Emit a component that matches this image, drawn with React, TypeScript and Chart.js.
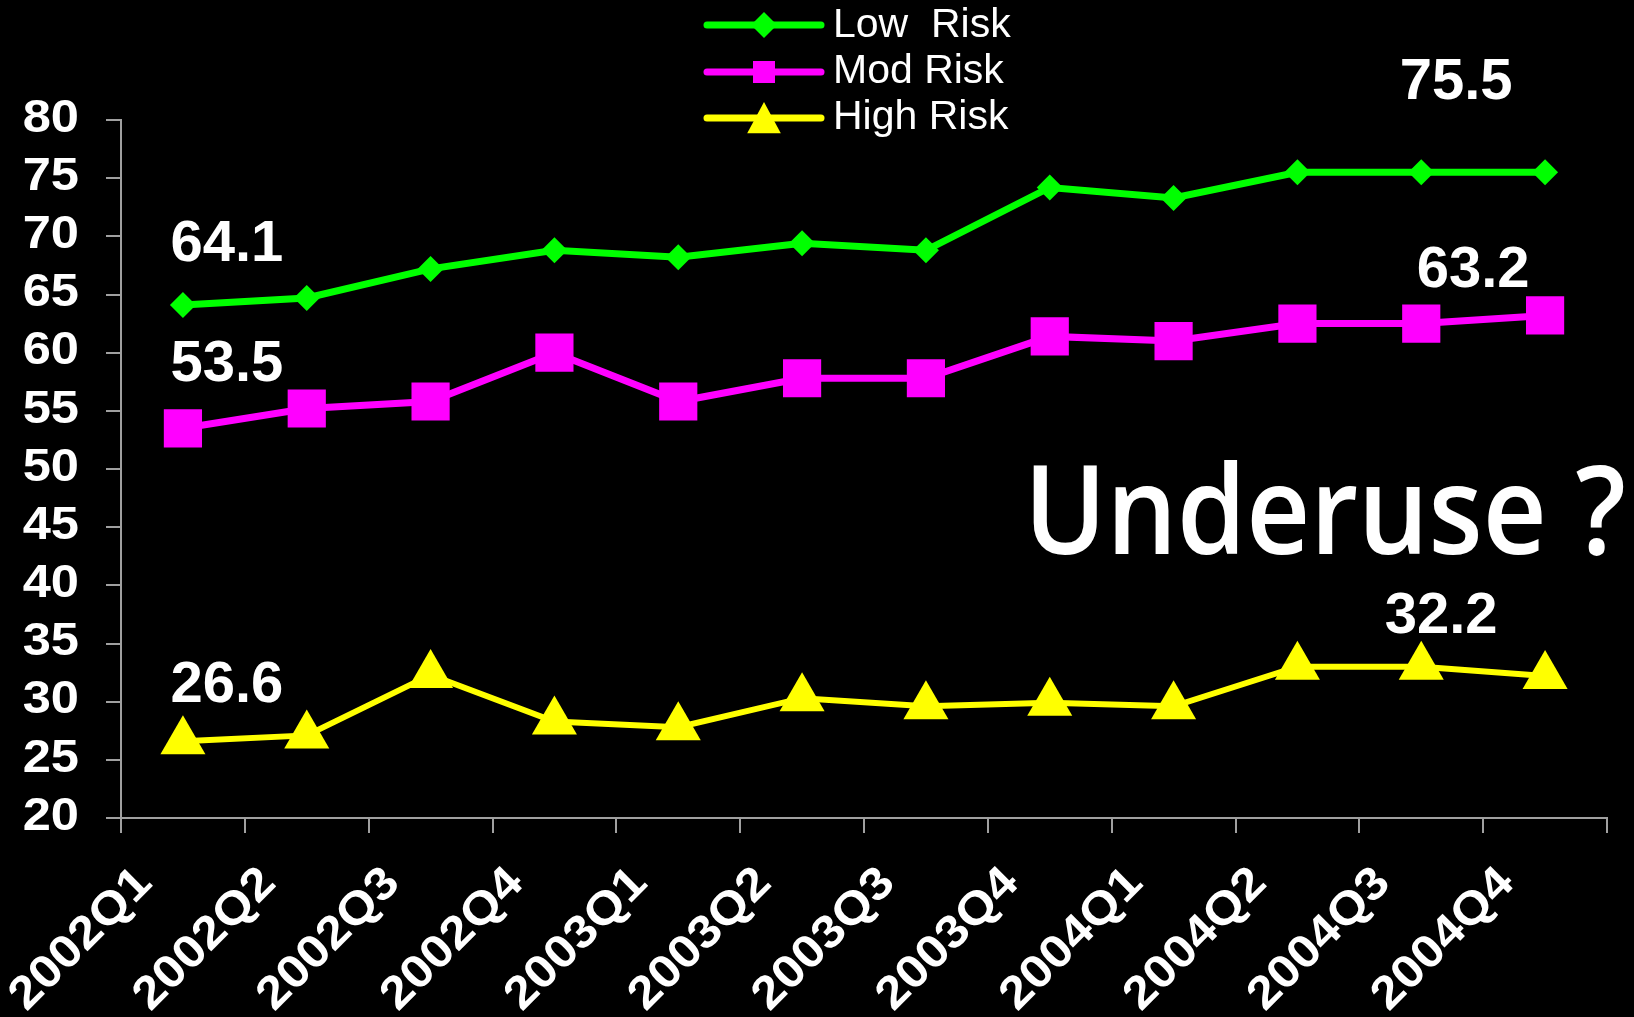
import React, { useEffect, useRef } from "react";
import { Chart, registerables } from "chart.js";

Chart.register(...registerables);

const categories = [
  "2002Q1", "2002Q2", "2002Q3", "2002Q4",
  "2003Q1", "2003Q2", "2003Q3", "2003Q4",
  "2004Q1", "2004Q2", "2004Q3", "2004Q4",
];
const lowRisk = [64.1, 64.7, 67.2, 68.8, 68.2, 69.4, 68.8, 74.2, 73.3, 75.5, 75.5, 75.5];
const modRisk = [53.5, 55.2, 55.8, 60.0, 55.8, 57.8, 57.8, 61.4, 61.0, 62.5, 62.5, 63.2];
const highRisk = [26.6, 27.1, 32.3, 28.3, 27.8, 30.3, 29.6, 29.9, 29.6, 33.0, 33.0, 32.2];
const seriesNames = ["Low  Risk", "Mod Risk", "High Risk"];
const seriesColors = ["#00FF00", "#FF00FF", "#FFFF00"];
const yMin = 20;
const yMax = 80;
const yStep = 5;
const calloutTexts = ["64.1", "53.5", "26.6", "75.5", "63.2", "32.2"];
const annotationText = "Underuse ?";

const FONT = '"Liberation Sans", Arial, sans-serif';

function drawMarker(ctx: CanvasRenderingContext2D, kind: number, x: number, y: number, r: number, color: string) {
  ctx.save();
  ctx.fillStyle = color;
  ctx.beginPath();
  if (kind === 0) {
    ctx.moveTo(x, y - r);
    ctx.lineTo(x + r, y);
    ctx.lineTo(x, y + r);
    ctx.lineTo(x - r, y);
  } else if (kind === 1) {
    ctx.rect(x - r, y - r, 2 * r, 2 * r);
  } else {
    ctx.moveTo(x, y - r);
    ctx.lineTo(x + r * 1.05, y + r * 0.95);
    ctx.lineTo(x - r * 1.05, y + r * 0.95);
  }
  ctx.closePath();
  ctx.fill();
  ctx.restore();
}

const overlayPlugin = {
  id: "overlay",
  beforeDraw(chart: any) {
    const ctx = chart.ctx as CanvasRenderingContext2D;
    ctx.save();
    ctx.fillStyle = "#000";
    ctx.fillRect(0, 0, chart.width, chart.height);
    ctx.restore();
  },
  afterDraw(chart: any) {
    const ctx = chart.ctx as CanvasRenderingContext2D;
    const xs = chart.scales.x;
    const ys = chart.scales.y;

    // Y tick labels
    ctx.save();
    ctx.fillStyle = "#fff";
    ctx.font = `bold 46px ${FONT}`;
    ctx.textAlign = "right";
    ctx.textBaseline = "middle";
    ys.ticks.forEach((t: any) => {
      const py = ys.getPixelForValue(t.value);
      ctx.save();
      ctx.translate(xs.left - 42, py - 1);
      ctx.scale(1.1, 1);
      ctx.fillText(String(t.value), 0, 0);
      ctx.restore();
    });
    ctx.restore();

    // X tick labels rotated 45deg
    ctx.save();
    ctx.fillStyle = "#fff";
    ctx.font = `bold 46px ${FONT}`;
    ctx.textAlign = "right";
    ctx.textBaseline = "middle";
    categories.forEach((c, i) => {
      const px = xs.getPixelForValue(i);
      ctx.save();
      ctx.translate(px - 38, ys.bottom + 58);
      ctx.rotate(-Math.PI / 4);
      ctx.scale(1.1, 1);
      ctx.fillText(c, 0, 0);
      ctx.restore();
    });
    ctx.restore();

    // Callout value labels
    const series = [lowRisk, modRisk, highRisk];
    const calloutPos = [
      { s: 0, i: 0, dx: 44, dy: -60 },
      { s: 1, i: 0, dx: 44, dy: -63 },
      { s: 2, i: 0, dx: 44, dy: -55 },
      { s: 0, i: 11, dx: -89, dy: -89 },
      { s: 1, i: 11, dx: -72, dy: -44 },
      { s: 2, i: 11, dx: -104, dy: -59 },
    ];
    ctx.save();
    ctx.fillStyle = "#fff";
    ctx.font = `bold 58px ${FONT}`;
    ctx.textAlign = "center";
    ctx.textBaseline = "middle";
    calloutTexts.forEach((txt, k) => {
      const p = calloutPos[k];
      const px = xs.getPixelForValue(p.i) + p.dx;
      const py = ys.getPixelForValue(series[p.s][p.i]) + p.dy;
      ctx.fillText(txt, px, py);
    });
    ctx.restore();

    // Underuse annotation
    ctx.save();
    ctx.fillStyle = "#fff";
    ctx.font = `600 123px "Comic Sans MS", "Open Sans", sans-serif`;
    ctx.textAlign = "left";
    ctx.textBaseline = "alphabetic";
    const w = ctx.measureText(annotationText).width;
    const target = 602;
    ctx.translate(1024, 554);
    ctx.scale(target / w, 1);
    ctx.fillText(annotationText, 0, 0);
    ctx.restore();

    // Legend
    const rowsBase = [37, 83, 129];
    const rowsLine = [25, 72, 118];
    const markerR = [13, 11, 16];
    ctx.save();
    seriesNames.forEach((name, k) => {
      ctx.strokeStyle = seriesColors[k];
      ctx.lineWidth = 7;
      ctx.lineCap = "round";
      ctx.beginPath();
      ctx.moveTo(707, rowsLine[k]);
      ctx.lineTo(821, rowsLine[k]);
      ctx.stroke();
      drawMarker(ctx, k, 764, rowsLine[k], markerR[k], seriesColors[k]);
      ctx.fillStyle = "#fff";
      ctx.font = `41px ${FONT}`;
      ctx.textAlign = "left";
      ctx.textBaseline = "alphabetic";
      ctx.fillText(name, 833, rowsBase[k]);
    });
    ctx.restore();
  },
};

export default function App() {
  const canvasRef = useRef<HTMLCanvasElement | null>(null);

  useEffect(() => {
    document.body.style.margin = "0";
    document.body.style.background = "#000";
    const canvas = canvasRef.current;
    if (!canvas) return;
    const chart = new Chart(canvas, {
      type: "line",
      data: {
        labels: categories,
        datasets: [
          {
            label: seriesNames[0],
            data: lowRisk,
            borderColor: seriesColors[0],
            backgroundColor: seriesColors[0],
            borderWidth: 7,
            pointStyle: "rectRot",
            pointRadius: 13,
            pointBorderWidth: 0,
            tension: 0,
          },
          {
            label: seriesNames[1],
            data: modRisk,
            borderColor: seriesColors[1],
            backgroundColor: seriesColors[1],
            borderWidth: 7,
            pointStyle: "rect",
            pointRadius: 27,
            pointBorderWidth: 0,
            tension: 0,
          },
          {
            label: seriesNames[2],
            data: highRisk,
            borderColor: seriesColors[2],
            backgroundColor: seriesColors[2],
            borderWidth: 6,
            pointStyle: "triangle",
            pointRadius: 26,
            pointBorderWidth: 0,
            tension: 0,
          },
        ],
      },
      options: {
        animation: false,
        responsive: false,
        devicePixelRatio: 1,
        layout: { padding: { top: 120, right: 22, left: 0, bottom: 0 } },
        plugins: {
          legend: { display: false },
          tooltip: { enabled: false },
        },
        scales: {
          x: {
            type: "category",
            offset: true,
            grid: {
              offset: true,
              drawOnChartArea: false,
              drawTicks: true,
              tickLength: 15,
              color: "#a0a0a0",
              lineWidth: 2,
            },
            border: { color: "#a0a0a0", width: 2 },
            ticks: { display: false },
            afterFit: (scale: any) => {
              scale.height = 199;
            },
          },
          y: {
            min: yMin,
            max: yMax,
            ticks: { display: false, stepSize: yStep },
            grid: {
              drawOnChartArea: false,
              drawTicks: true,
              tickLength: 15,
              color: "#a0a0a0",
              lineWidth: 2,
            },
            border: { color: "#a0a0a0", width: 2 },
            afterFit: (scale: any) => {
              scale.width = 121;
            },
          },
        },
      },
      plugins: [overlayPlugin],
    });
    return () => chart.destroy();
  }, []);

  return (
    <div style={{ position: "fixed", left: 0, top: 0, width: 1634, height: 1017, background: "#000" }}>
      <canvas ref={canvasRef} width={1634} height={1017} style={{ display: "block" }} />
    </div>
  );
}
